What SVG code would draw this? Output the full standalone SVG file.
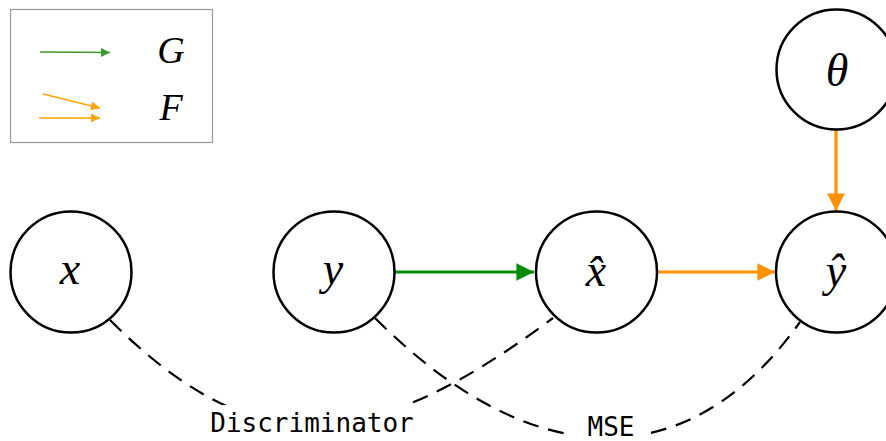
<svg xmlns="http://www.w3.org/2000/svg" width="886" height="441" viewBox="0 0 886 441">
  <defs>
    <marker id="headG" viewBox="0 0 10 10" refX="10" refY="5" markerWidth="7" markerHeight="5.5" markerUnits="strokeWidth" orient="auto">
      <path d="M0,0 L10,5 L0,10 z" fill="#0a8c0a"/>
    </marker>
    <marker id="headF" viewBox="0 0 10 10" refX="10" refY="5" markerWidth="7" markerHeight="5.5" markerUnits="strokeWidth" orient="auto">
      <path d="M0,0 L10,5 L0,10 z" fill="#ff9100"/>
    </marker>
    <marker id="legG" viewBox="0 0 10 10" refX="10" refY="5" markerWidth="8" markerHeight="6" markerUnits="strokeWidth" orient="auto">
      <path d="M0,0 L10,5 L0,10 z" fill="#3c9a2a"/>
    </marker>
    <marker id="legF" viewBox="0 0 10 10" refX="10" refY="5" markerWidth="8" markerHeight="6" markerUnits="strokeWidth" orient="auto">
      <path d="M0,0 L10,5 L0,10 z" fill="#ffa500"/>
    </marker>
  </defs>
  <style>
    .node circle { fill: #ffffff; stroke: #000000; stroke-width: 2.5; }
    .math { font-family: "Liberation Serif", "DejaVu Serif", serif; font-style: italic; font-size: 46px; text-anchor: middle; fill: #000000; }
    .leg { font-family: "Liberation Serif", "DejaVu Serif", serif; font-style: italic; font-size: 38px; text-anchor: middle; fill: #000000; }
    .loss { fill: none; stroke: #000000; stroke-width: 2.2; stroke-dasharray: 16 10; }
    .lbl { font-family: "DejaVu Sans Mono", monospace; font-size: 26px; text-anchor: middle; fill: #000000; }
    .g { stroke: #0a8c0a; stroke-width: 3.2; fill: none; }
    .f { stroke: #ff9100; stroke-width: 3.2; fill: none; }
  </style>

  <rect width="886" height="441" fill="#ffffff"/>

  <!-- legend -->
  <g id="legend">
    <rect x="10.5" y="9.5" width="202" height="133" fill="#ffffff" stroke="#999999" stroke-width="1.2"/>
    <line x1="40" y1="52" x2="110" y2="52.5" stroke="#3c9a2a" stroke-width="1.5" marker-end="url(#legG)"/>
    <text class="leg" x="171" y="63">G</text>
    <line x1="43" y1="94" x2="100" y2="108" stroke="#ffa500" stroke-width="1.5" marker-end="url(#legF)"/>
    <line x1="39" y1="118" x2="100" y2="118" stroke="#ffa500" stroke-width="1.5" marker-end="url(#legF)"/>
    <text class="leg" x="171" y="120">F</text>
  </g>

  <!-- connectors -->
  <g id="connectors">
    <path class="loss" d="M110,320 C250,460 363,460 553,318"/>
    <path class="loss" d="M375,318 C534,477 690,477 800,322"/>
    <line class="g" x1="395" y1="272" x2="534" y2="272" marker-end="url(#headG)"/>
    <line class="f" x1="657" y1="272" x2="775" y2="272" marker-end="url(#headF)"/>
    <line class="f" x1="836" y1="130" x2="836" y2="211" marker-end="url(#headF)"/>
    <rect x="205" y="405" width="217" height="36" fill="#ffffff"/>
    <text class="lbl" x="312" y="432">Discriminator</text>
    <rect x="565" y="408" width="83" height="33" fill="#ffffff"/>
    <text class="lbl" x="611" y="436">MSE</text>
  </g>

  <!-- nodes -->
  <g id="node-x" class="node">
    <circle cx="71" cy="272" r="60.5"/>
    <text class="math" x="70" y="284">x</text>
  </g>
  <g id="node-y" class="node">
    <circle cx="334" cy="272" r="60.5"/>
    <text class="math" x="333" y="284">y</text>
  </g>
  <g id="node-xhat" class="node">
    <circle cx="596.5" cy="272" r="60.5"/>
    <text class="math" x="596" y="286">x̂</text>
  </g>
  <g id="node-yhat" class="node">
    <circle cx="836.5" cy="272" r="60.5"/>
    <text class="math" x="836" y="286">ŷ</text>
  </g>
  <g id="node-theta" class="node">
    <circle cx="836.5" cy="69.5" r="60"/>
    <text class="math" x="837" y="86">θ</text>
  </g>
</svg>
